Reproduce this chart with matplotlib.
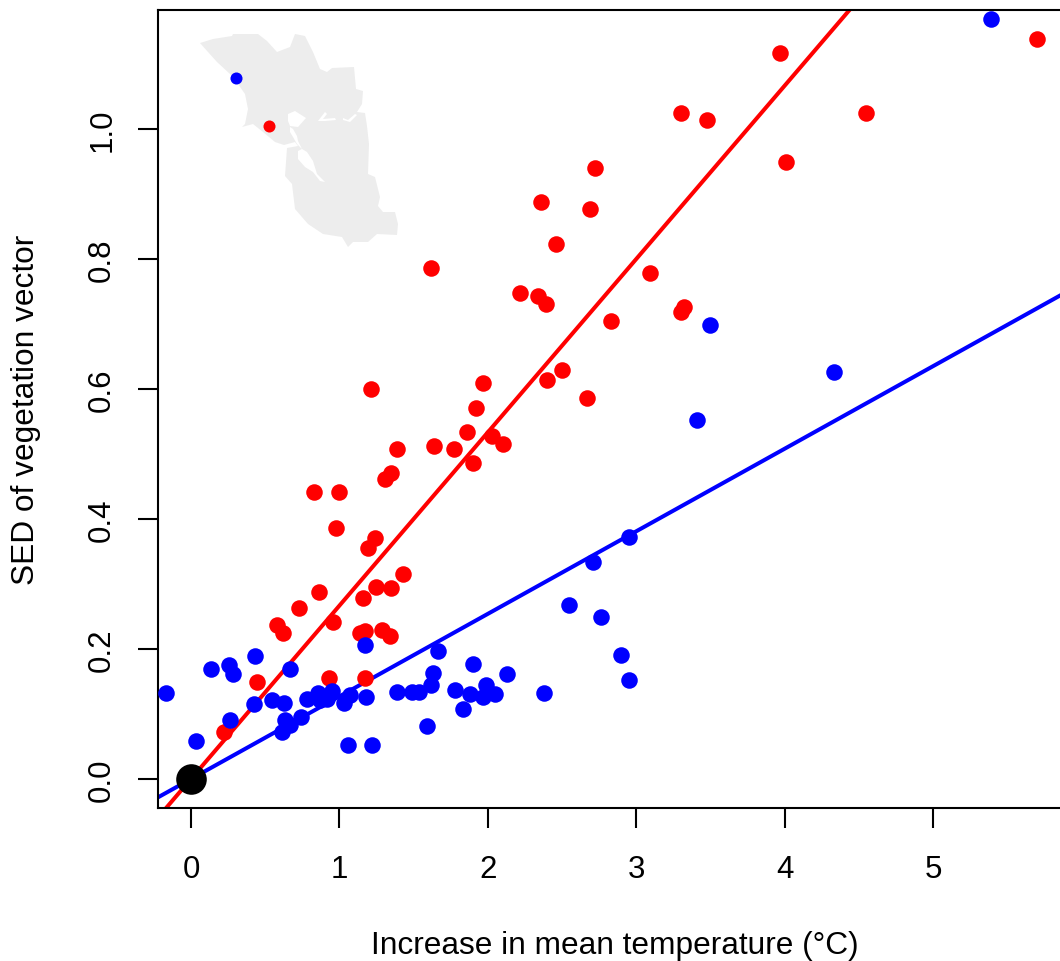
import matplotlib
matplotlib.use('Agg')
import matplotlib.pyplot as plt

plt.rcParams['font.family'] = ['Liberation Sans', 'DejaVu Sans']

# warming vs vegetation change
red_x = [5.70, 4.55, 3.97, 4.01, 3.30, 3.48, 2.72, 2.69, 2.36, 2.46, 1.62, 3.09, 2.22, 2.34, 2.39,
         3.32, 3.30, 2.83, 1.21, 1.97, 2.40, 2.50, 2.67, 1.92, 1.64, 1.77, 1.86, 2.03, 2.10, 1.90,
         1.39, 1.35, 1.31, 0.83, 1.00, 0.98, 1.24, 1.19, 1.43, 1.25, 1.35, 1.16, 0.86, 0.73, 0.58,
         0.62, 0.96, 1.14, 1.17, 1.29, 1.34, 0.93, 1.17, 0.445, 0.22]
red_y = [1.138, 1.025, 1.117, 0.949, 1.025, 1.014, 0.940, 0.877, 0.888, 0.823, 0.786, 0.778, 0.748, 0.743, 0.731,
         0.726, 0.718, 0.705, 0.600, 0.609, 0.614, 0.629, 0.586, 0.571, 0.512, 0.508, 0.534, 0.528, 0.515, 0.486,
         0.508, 0.471, 0.462, 0.442, 0.442, 0.386, 0.371, 0.355, 0.315, 0.295, 0.294, 0.278, 0.288, 0.263, 0.237,
         0.225, 0.242, 0.225, 0.228, 0.229, 0.220, 0.155, 0.155, 0.149, 0.072]
blue_x = [5.39, 3.50, 4.33, 3.41, 2.95, 2.71, 2.55, 2.76, 2.90, 2.95, 2.38, 1.665, 1.63, 1.62, 1.54,
          1.49, 1.39, 1.78, 1.90, 2.13, 1.99, 2.05, 1.97, 1.88, 1.83, 1.59, -0.17, 0.135, 0.256, 0.285,
          0.43, 0.667, 0.425, 0.545, 0.627, 0.263, 0.034, 0.633, 0.667, 0.613, 0.74, 0.78, 0.856, 0.87,
          0.92, 0.95, 1.07, 1.03, 1.18, 1.17, 1.058, 1.22]
blue_y = [1.169, 0.698, 0.626, 0.552, 0.372, 0.334, 0.268, 0.249, 0.191, 0.152, 0.132, 0.197, 0.163, 0.145, 0.134,
          0.134, 0.134, 0.137, 0.177, 0.162, 0.145, 0.131, 0.126, 0.131, 0.108, 0.082, 0.132, 0.169, 0.175, 0.161,
          0.189, 0.169, 0.115, 0.121, 0.117, 0.091, 0.058, 0.091, 0.083, 0.072, 0.095, 0.123, 0.132, 0.122,
          0.123, 0.135, 0.129, 0.117, 0.126, 0.206, 0.052, 0.052]
inset_red = (0.526, 1.005)
inset_blue = (0.303, 1.078)
red_slope = 0.2666
blue_slope = 0.127

x_ticks = [0, 1, 2, 3, 4, 5]
y_ticks = [0.0, 0.2, 0.4, 0.6, 0.8, 1.0]
y_labels = ['0.0', '0.2', '0.4', '0.6', '0.8', '1.0']

# map outline, traced in its own units
map_x = [200, 213, 232, 233, 258, 267, 277, 290, 295, 305, 313, 320, 327, 332, 354, 356, 363, 362, 357, 365,
         367, 369, 368, 375, 380, 378, 383, 395, 398, 397, 377, 368, 353, 348, 342, 323, 308, 295, 292, 285,
         287, 298, 295, 284, 275, 263, 253, 242, 245, 248, 245, 238, 230, 217, 208]
map_y = [44, 40, 37, 35, 35, 42, 53, 48, 35, 37, 53, 70, 73, 69, 68, 90, 92, 105, 113, 114,
         127, 145, 175, 178, 198, 207, 213, 213, 225, 236, 235, 243, 243, 248, 238, 235, 225, 210, 185, 177,
         149, 147, 143, 146, 143, 133, 125, 128, 125, 110, 95, 85, 75, 63, 53]
bay_north_x = [288, 295, 306, 298, 290, 288]
bay_north_y = [115, 112, 119, 128, 127, 122]
bay_strait_x = [318, 325, 327, 323, 335, 336, 325]
bay_strait_y = [122, 113, 115, 120, 119, 121, 122]
bay_suisun_x = [343, 348, 355, 357, 350, 343]
bay_suisun_y = [119, 121, 115, 116, 123, 121]
bay_gate_x = [290, 293, 297, 298, 302, 297, 293, 290]
bay_gate_y = [128, 130, 137, 142, 150, 145, 138, 133]
bay_south_x = [298, 302, 307, 313, 317, 325, 320, 313, 305, 298]
bay_south_y = [152, 150, 153, 162, 175, 183, 182, 173, 168, 160]

fig = plt.figure(figsize=(10.6, 9.62), dpi=100)
ax = fig.add_axes([158 / 1060, (962 - 809) / 962, 902 / 1060, 798 / 962])

# grey map sits behind the points
mp = ax.inset_axes([(190 - 158) / 902, (809 - 255) / 798, 220 / 902, 230 / 798], zorder=0)
mp.fill(map_x, map_y, color='#EDEDED', lw=0)
for hx, hy in [(bay_north_x, bay_north_y), (bay_strait_x, bay_strait_y), (bay_suisun_x, bay_suisun_y),
               (bay_gate_x, bay_gate_y), (bay_south_x, bay_south_y)]:
    mp.fill(hx, hy, color='white', lw=0)
mp.set_xlim(190, 410)
mp.set_ylim(255, 25)
mp.axis('off')

ax.axline((0, 0), slope=red_slope, color='#FF0000', lw=2.9, zorder=2)
ax.axline((0, 0), slope=blue_slope, color='#0000FF', lw=2.9, zorder=2)
ax.scatter(red_x, red_y, s=142, color='#FF0000', lw=0, zorder=3)
ax.scatter(blue_x, blue_y, s=142, color='#0000FF', lw=0, zorder=4)
ax.scatter([inset_red[0]], [inset_red[1]], s=75, color='#FF0000', lw=0, zorder=3)
ax.scatter([inset_blue[0]], [inset_blue[1]], s=75, color='#0000FF', lw=0, zorder=3)
ax.scatter([0], [0], s=485, color='black', lw=0, zorder=5)

ax.set_xlim(-0.222, 5.856)
ax.set_ylim(-0.0446, 1.183)
ax.set_xticks(x_ticks)
ax.set_yticks(y_ticks)
ax.set_yticklabels(y_labels, rotation=90, va='center')
ax.tick_params(axis='both', length=14.4, width=1.5, labelsize=22.5)
ax.tick_params(axis='x', pad=19)
ax.tick_params(axis='y', pad=15)
ax.spines['right'].set_visible(False)
for side in ['top', 'left', 'bottom']:
    ax.spines[side].set_linewidth(1.5)

fig.text(615 / 1060, 1 - 946 / 962, 'Increase in mean temperature (°C)', fontsize=22.8, ha='center', va='center')
fig.text(26 / 1060, 1 - 410 / 962, 'SED of vegetation vector', fontsize=22.8, rotation=90, ha='center', va='center')

fig.savefig('out.png', dpi=100)
